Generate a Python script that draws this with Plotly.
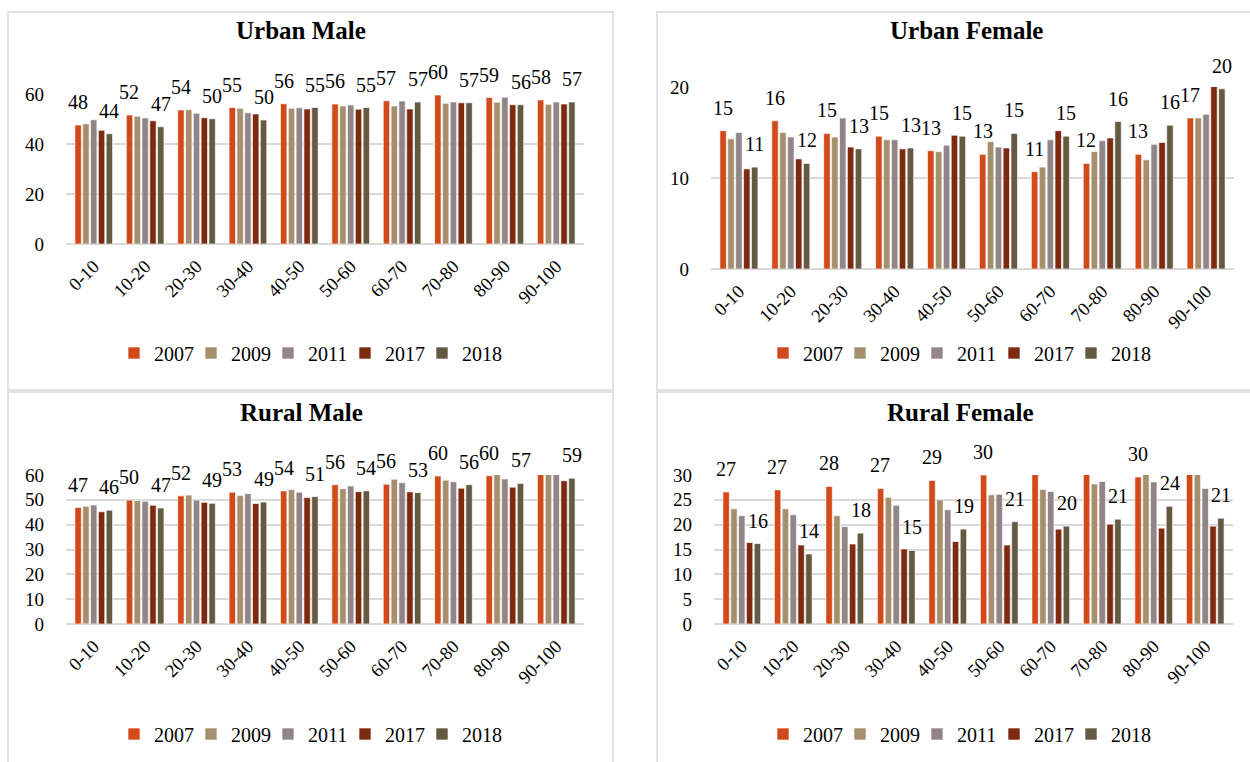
import math
import plotly.graph_objects as go

W, H = 1250, 762

categories = ["0-10", "10-20", "20-30", "30-40", "40-50",
              "50-60", "60-70", "70-80", "80-90", "90-100"]
years = ["2007", "2009", "2011", "2017", "2018"]
colors = ["#D24A19", "#A58F6C", "#918587", "#7E2A11", "#645A42"]

# Urban Male
um_2007 = [47.6, 51.6, 53.6, 54.6, 56.1, 56.0, 57.3, 59.6, 58.6, 57.6]
um_2009 = [48.1, 51.1, 53.7, 54.3, 54.3, 55.2, 55.2, 56.3, 56.7, 55.9]
um_2011 = [49.7, 50.4, 52.3, 52.5, 54.5, 55.6, 57.2, 56.8, 58.7, 56.8]
um_2017 = [45.5, 49.3, 50.5, 52.0, 54.0, 53.9, 54.0, 56.5, 55.7, 56.0]
um_2018 = [44.1, 46.9, 50.1, 49.6, 54.6, 54.6, 56.8, 56.5, 55.7, 56.8]

# Urban Female
uf_2007 = [15.2, 16.3, 14.9, 14.6, 13.0, 12.6, 10.7, 11.6, 12.6, 16.6]
uf_2009 = [14.3, 15.0, 14.5, 14.2, 12.9, 14.0, 11.2, 12.9, 12.0, 16.6]
uf_2011 = [15.0, 14.5, 16.6, 14.2, 13.6, 13.4, 14.2, 14.1, 13.7, 17.0]
uf_2017 = [11.0, 12.1, 13.4, 13.2, 14.7, 13.3, 15.2, 14.4, 13.9, 20.1]
uf_2018 = [11.2, 11.6, 13.2, 13.3, 14.6, 14.9, 14.6, 16.2, 15.8, 19.8]

# Rural Male
rm_2007 = [46.9, 49.9, 51.6, 53.1, 53.6, 56.1, 56.3, 59.6, 59.7, 61.0]
rm_2009 = [47.4, 49.7, 51.9, 51.7, 54.2, 54.5, 58.3, 57.9, 60.3, 60.8]
rm_2011 = [47.9, 49.4, 49.9, 52.5, 53.1, 55.6, 56.9, 57.3, 58.4, 60.5]
rm_2017 = [45.2, 47.8, 49.0, 48.5, 50.9, 53.3, 53.2, 54.7, 55.1, 57.7]
rm_2018 = [45.8, 46.7, 48.6, 49.1, 51.3, 53.6, 52.9, 56.1, 56.6, 58.7]

# Rural Female
rf_2007 = [26.6, 27.0, 27.7, 27.3, 28.9, 30.0, 31.5, 31.2, 29.6, 31.0]
rf_2009 = [23.2, 23.2, 21.8, 25.5, 25.0, 26.0, 27.1, 28.2, 30.4, 30.6]
rf_2011 = [21.8, 22.0, 19.6, 23.9, 23.0, 26.1, 26.7, 28.7, 28.6, 27.3]
rf_2017 = [16.4, 15.9, 16.1, 15.1, 16.6, 15.9, 19.1, 20.1, 19.3, 19.7]
rf_2018 = [16.2, 14.1, 18.3, 14.8, 19.1, 20.6, 19.7, 21.1, 23.7, 21.3]

labelled_years = ["2007", "2018"]

FONT = "Liberation Serif, Times New Roman, serif"
GRID = "rgb(217,217,217)"
BARGAP = 0.24


def px_x(p):
    return p / W


def px_y(p):
    return 1 - p / H


panels = [
    dict(title="Urban Male", series=[um_2007, um_2009, um_2011, um_2017, um_2018],
         xd=(66, 584), yd=(94, 244), ymax=60, dtick=20, sfx="",
         tpos=(301, 31), lpos=(114, 353), rect=(8, 12, 613, 390)),
    dict(title="Urban Female", series=[uf_2007, uf_2009, uf_2011, uf_2017, uf_2018],
         xd=(711, 1234), yd=(87, 269), ymax=20, dtick=10, sfx="2",
         tpos=(967, 31), lpos=(763, 353), rect=(657, 12, 1262, 390)),
    dict(title="Rural Male", series=[rm_2007, rm_2009, rm_2011, rm_2017, rm_2018],
         xd=(66, 584), yd=(475, 624), ymax=60, dtick=10, sfx="3",
         tpos=(301, 412), lpos=(114, 734), rect=(8, 392, 613, 775)),
    dict(title="Rural Female", series=[rf_2007, rf_2009, rf_2011, rf_2017, rf_2018],
         xd=(714, 1233), yd=(475, 624), ymax=30, dtick=5, sfx="4",
         tpos=(960, 412), lpos=(763, 734), rect=(657, 392, 1262, 775)),
]


def fmt(v, ymax):
    if v > ymax:
        return ""
    return str(int(math.floor(v + 0.5)))


fig = go.Figure()
layout = dict(
    template="none",
    width=W, height=H, autosize=False,
    margin=dict(l=0, r=0, t=0, b=0, pad=0, autoexpand=False),
    paper_bgcolor="white", plot_bgcolor="white",
    barmode="group", bargap=BARGAP, bargroupgap=0.18,
    showlegend=True,
    font=dict(family=FONT, color="black", size=19),
)
annotations = []
shapes = []

for p in panels:
    sfx = p["sfx"]
    xa = "x" + sfx
    ya = "y" + sfx
    leg = "legend" + sfx
    cat_w = (p["xd"][1] - p["xd"][0]) / len(categories)
    slot = cat_w * (1 - BARGAP) / len(years)
    for i, (yr, col, vals) in enumerate(zip(years, colors, p["series"])):
        fig.add_trace(go.Bar(
            x=categories, y=vals, name=yr, xaxis=xa, yaxis=ya,
            marker=dict(color=col, line=dict(color="rgba(255,255,255,0.8)", width=0.8)),
            legend=leg, hoverinfo="x+y+name",
        ))
        if yr in labelled_years:
            for c, v in zip(categories, vals):
                lbl = fmt(v, p["ymax"])
                if not lbl:
                    continue
                annotations.append(dict(
                    x=c, y=v, xref=xa, yref=ya, text=lbl, showarrow=False,
                    xanchor="center", yanchor="bottom",
                    xshift=(i - (len(years) - 1) / 2) * slot, yshift=10,
                    font=dict(family=FONT, size=20, color="black"),
                ))
    # blank spacer entry so the last legend label is not cut off
    fig.add_trace(go.Scatter(
        x=[None], y=[None], mode="markers", name="\u00a0", xaxis=xa, yaxis=ya,
        marker=dict(color="rgba(0,0,0,0)", size=1), legend=leg, hoverinfo="skip",
    ))

    layout["xaxis" + sfx] = dict(
        domain=[px_x(p["xd"][0]), px_x(p["xd"][1])], anchor=ya,
        type="category", tickangle=-45, showgrid=False, showline=False,
        zeroline=False, automargin=False,
        ticks="", ticklabelstandoff=7,
        tickfont=dict(family=FONT, size=18.5, color="black"),
    )
    layout["yaxis" + sfx] = dict(
        domain=[px_y(p["yd"][1]), px_y(p["yd"][0])], anchor=xa,
        range=[0, p["ymax"]], dtick=p["dtick"], showgrid=True, gridcolor=GRID,
        gridwidth=1.5, zeroline=True, zerolinecolor=GRID, zerolinewidth=1.5,
        showline=False, ticks="", ticklabelstandoff=21, automargin=False,
        tickfont=dict(family=FONT, size=19, color="black"),
    )
    layout[leg] = dict(
        orientation="h", x=px_x(p["lpos"][0]), xanchor="left",
        y=px_y(p["lpos"][1]), yanchor="middle",
        font=dict(family=FONT, size=20, color="black"),
        entrywidth=32, entrywidthmode="pixels", bgcolor="rgba(0,0,0,0)",
        borderwidth=0, itemclick=False, itemdoubleclick=False,
    )
    annotations.append(dict(
        text="<b>" + p["title"] + "</b>", xref="paper", yref="paper",
        x=px_x(p["tpos"][0]), y=px_y(p["tpos"][1]), xanchor="center", yanchor="middle",
        showarrow=False, font=dict(family=FONT, size=25, color="black"),
    ))
    x0, y0, x1, y1 = p["rect"]
    shapes.append(dict(
        type="rect", xref="paper", yref="paper",
        x0=px_x(x0), x1=px_x(x1), y0=px_y(y1), y1=px_y(y0),
        line=dict(color=GRID, width=1.5), fillcolor="rgba(0,0,0,0)", layer="below",
    ))

layout["annotations"] = annotations
layout["shapes"] = shapes
fig.update_layout(**layout)

fig.write_html("out.html")
